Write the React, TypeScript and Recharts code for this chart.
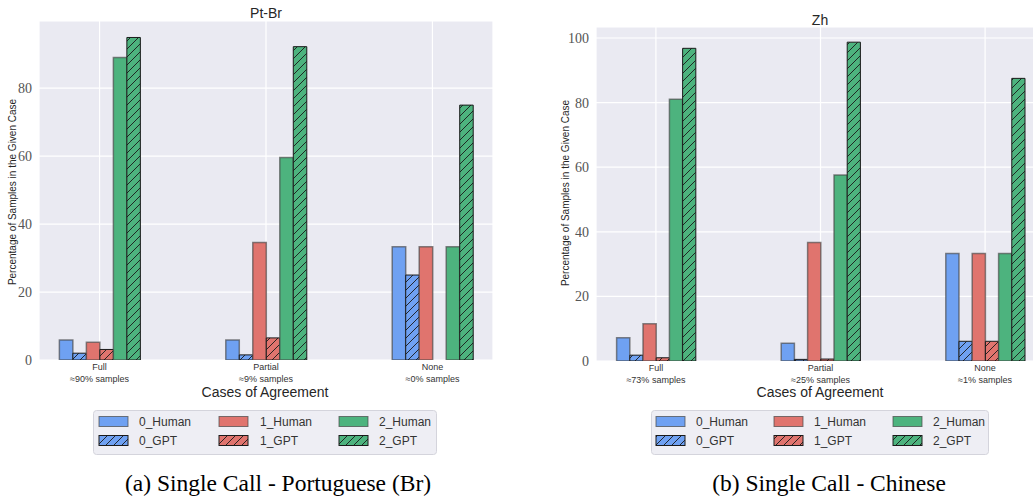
import React from "react";
import { BarChart, Bar, XAxis, YAxis, CartesianGrid } from "recharts";

// ── Data ───────────────────────────────────────────────────────────────────

const categories = ["Full", "Partial", "None"];
const ptShares = ["≈90% samples", "≈9% samples", "≈0% samples"];
const zhShares = ["≈73% samples", "≈25% samples", "≈1% samples"];

const ptHuman0 = [5.9, 5.9, 33.3];
const ptGpt0 = [2.0, 1.5, 25.0];
const ptHuman1 = [5.2, 34.6, 33.3];
const ptGpt1 = [3.1, 6.5, 0];
const ptHuman2 = [89.0, 59.6, 33.3];
const ptGpt2 = [94.9, 92.2, 75.0];

const zhHuman0 = [7.2, 5.5, 33.3];
const zhGpt0 = [1.8, 0.5, 6.1];
const zhHuman1 = [11.5, 36.7, 33.3];
const zhGpt1 = [1.0, 0.6, 6.1];
const zhHuman2 = [81.0, 57.6, 33.3];
const zhGpt2 = [96.8, 98.7, 87.5];

const ptTicks = [0, 20, 40, 60, 80];
const zhTicks = [0, 20, 40, 60, 80, 100];

const seriesNames = ["0_Human", "0_GPT", "1_Human", "1_GPT", "2_Human", "2_GPT"];

// ── Styling ────────────────────────────────────────────────────────────────

const COLORS = ["#6fa1f2", "#e0746e", "#4db37e"];
const PLOT_BG = "#eaeaf2";
const SANS = "'Liberation Sans', Arial, sans-serif";
const SERIF = "'Liberation Serif', 'Times New Roman', serif";

function buildRows(cols: number[][]) {
  return categories.map((_, i) => ({
    x: i,
    h0: cols[0][i],
    g0: cols[1][i],
    h1: cols[2][i],
    g1: cols[3][i],
    h2: cols[4][i],
    g2: cols[5][i],
  }));
}

const ptRows = buildRows([ptHuman0, ptGpt0, ptHuman1, ptGpt1, ptHuman2, ptGpt2]);
const zhRows = buildRows([zhHuman0, zhGpt0, zhHuman1, zhGpt1, zhHuman2, zhGpt2]);

function HatchDefs({ prefix }: { prefix: string }) {
  return (
    <defs>
      {COLORS.map((c, i) => (
        <pattern key={i} id={`${prefix}-hatch-${i}`} width={8} height={8} patternUnits="userSpaceOnUse">
          <rect width={8} height={8} fill={c} />
          <path d="M-2,2 L2,-2 M0,8 L8,0 M6,10 L10,6" stroke="#1a1a1a" strokeWidth={0.9} />
        </pattern>
      ))}
    </defs>
  );
}

function makeXTick(shares: string[]) {
  return (props: any) => {
    const { x, y, payload } = props;
    const i = Math.round(payload.value);
    return (
      <g>
        <text x={x} y={y + 10} textAnchor="middle" fontSize={9} fontFamily={SANS} fill="#333">
          {categories[i]}
        </text>
        <text x={x} y={y + 22} textAnchor="middle" fontSize={9} fontFamily={SANS} fill="#333">
          {shares[i]}
        </text>
      </g>
    );
  };
}

const YTick = (props: any) => {
  const { x, y, payload } = props;
  return (
    <text x={x} y={y} dy="0.36em" textAnchor="end" fontSize={14} fontFamily={SERIF} fill="#555">
      {payload.value}
    </text>
  );
};

// ── One panel ──────────────────────────────────────────────────────────────

interface PanelProps {
  prefix: string;
  rows: ReturnType<typeof buildRows>;
  shares: string[];
  yMax: number;
  yTicks: number[];
  width: number;
  yAxisWidth: number;
  top: number;
  right: number;
  xAxisHeight: number;
  barSize: number;
}

function Panel({ prefix, rows, shares, yMax, yTicks, width, yAxisWidth, top, right, xAxisHeight, barSize }: PanelProps) {
  const keys = ["h0", "g0", "h1", "g1", "h2", "g2"];
  return (
    <BarChart width={width} height={400} data={rows} margin={{ top, right, left: 0, bottom: 0 }} barGap={0}>
      <HatchDefs prefix={prefix} />
      <CartesianGrid fill={PLOT_BG} fillOpacity={1} stroke="#ffffff" strokeWidth={1.2} />
      <XAxis
        dataKey="x"
        type="number"
        domain={[-0.364, 2.364]}
        allowDataOverflow
        ticks={[0, 1, 2]}
        interval={0}
        axisLine={false}
        tickLine={false}
        tickSize={0}
        tickMargin={0}
        height={xAxisHeight}
        tick={makeXTick(shares)}
      />
      <YAxis
        type="number"
        domain={[0, yMax]}
        allowDataOverflow
        ticks={yTicks}
        interval={0}
        axisLine={false}
        tickLine={false}
        tickSize={0}
        tickMargin={7}
        width={yAxisWidth}
        tick={<YTick />}
      />
      {keys.map((k, i) => {
        const c = Math.floor(i / 2);
        const gpt = i % 2 === 1;
        return (
          <Bar
            key={k}
            dataKey={k}
            name={seriesNames[i]}
            barSize={barSize}
            fill={gpt ? `url(#${prefix}-hatch-${c})` : COLORS[c]}
            stroke={gpt ? "#1a1a1a" : "rgba(70,70,70,0.65)"}
            strokeWidth={gpt ? 1 : 1.5}
            isAnimationActive={false}
          />
        );
      })}
    </BarChart>
  );
}

// ── Legend (matplotlib-style box) ──────────────────────────────────────────

function LegendBox({ left, top, width, swatchX, textX, prefix }: { left: number; top: number; width: number; swatchX: number[]; textX: number[]; prefix: string }) {
  const rowsY = [11.5, 30.5];
  return (
    <svg style={{ position: "absolute", left, top }} width={width} height={45}>
      <defs>
        {COLORS.map((c, i) => (
          <pattern key={i} id={`${prefix}-lg-${i}`} width={8} height={8} patternUnits="userSpaceOnUse">
            <rect width={8} height={8} fill={c} />
            <path d="M-2,2 L2,-2 M0,8 L8,0 M6,10 L10,6" stroke="#1a1a1a" strokeWidth={0.9} />
          </pattern>
        ))}
      </defs>
      <rect x={0.5} y={0.5} width={width - 1} height={44} rx={3} fill="#eeeef4" stroke="#d4d4dc" />
      {[0, 1].map((r) =>
        [0, 1, 2].map((c) => (
          <g key={`${r}-${c}`}>
            <rect
              x={swatchX[c]}
              y={rowsY[r] - 5}
              width={29}
              height={10}
              fill={r === 1 ? `url(#${prefix}-lg-${c})` : COLORS[c]}
              stroke={r === 1 ? "#1a1a1a" : "rgba(70,70,70,0.7)"}
              strokeWidth={1}
            />
            <text x={textX[c]} y={rowsY[r]} dy="0.36em" fontSize={12} fontFamily={SANS} fill="#333">
              {seriesNames[c * 2 + r]}
            </text>
          </g>
        ))
      )}
    </svg>
  );
}

function TextAt({ x, y, size, font, children, rotate }: { x: number; y: number; size: number; font: string; children: React.ReactNode; rotate?: boolean }) {
  return (
    <div
      style={{
        position: "absolute",
        left: x,
        top: y,
        transform: `translate(-50%, -50%)${rotate ? " rotate(-90deg)" : ""}`,
        fontSize: size,
        fontFamily: font,
        color: font === SERIF ? "#000" : "#262626",
        whiteSpace: "nowrap",
        lineHeight: 1,
      }}
    >
      {children}
    </div>
  );
}

export default function App() {
  return (
    <div style={{ position: "absolute", left: 0, top: 0, width: 1033, height: 497, overflow: "hidden", background: "#fff" }}>
      <div style={{ position: "absolute", left: 0, top: 0 }}>
        <Panel prefix="pt" rows={ptRows} shares={ptShares} yMax={99.75} yTicks={ptTicks} width={500} yAxisWidth={39} top={21} right={7} xAxisHeight={40} barSize={13.5} />
      </div>
      <div style={{ position: "absolute", left: 540, top: 0 }}>
        <Panel prefix="zh" rows={zhRows} shares={zhShares} yMax={103.4} yTicks={zhTicks} width={510} yAxisWidth={56} top={27} right={5} xAxisHeight={39} barSize={13.2} />
      </div>

      <TextAt x={266} y={13} size={14} font={SANS}>Pt-Br</TextAt>
      <TextAt x={820} y={20} size={14} font={SANS}>Zh</TextAt>

      <TextAt x={13} y={192} size={10} font={SANS} rotate>Percentage of Samples in the Given Case</TextAt>
      <TextAt x={566} y={193} size={10} font={SANS} rotate>Percentage of Samples in the Given Case</TextAt>

      <TextAt x={265} y={392} size={14} font={SANS}>Cases of Agreement</TextAt>
      <TextAt x={820} y={392} size={14} font={SANS}>Cases of Agreement</TextAt>

      <LegendBox prefix="ptl" left={93} top={410} width={344} swatchX={[6, 126, 246]} textX={[46, 167, 286]} />
      <LegendBox prefix="zhl" left={651} top={410} width={338} swatchX={[5, 123, 242]} textX={[45, 163, 282]} />

      <TextAt x={278} y={484} size={23.5} font={SERIF}>(a) Single Call - Portuguese (Br)</TextAt>
      <TextAt x={829} y={484} size={23.5} font={SERIF}>(b) Single Call - Chinese</TextAt>
    </div>
  );
}
